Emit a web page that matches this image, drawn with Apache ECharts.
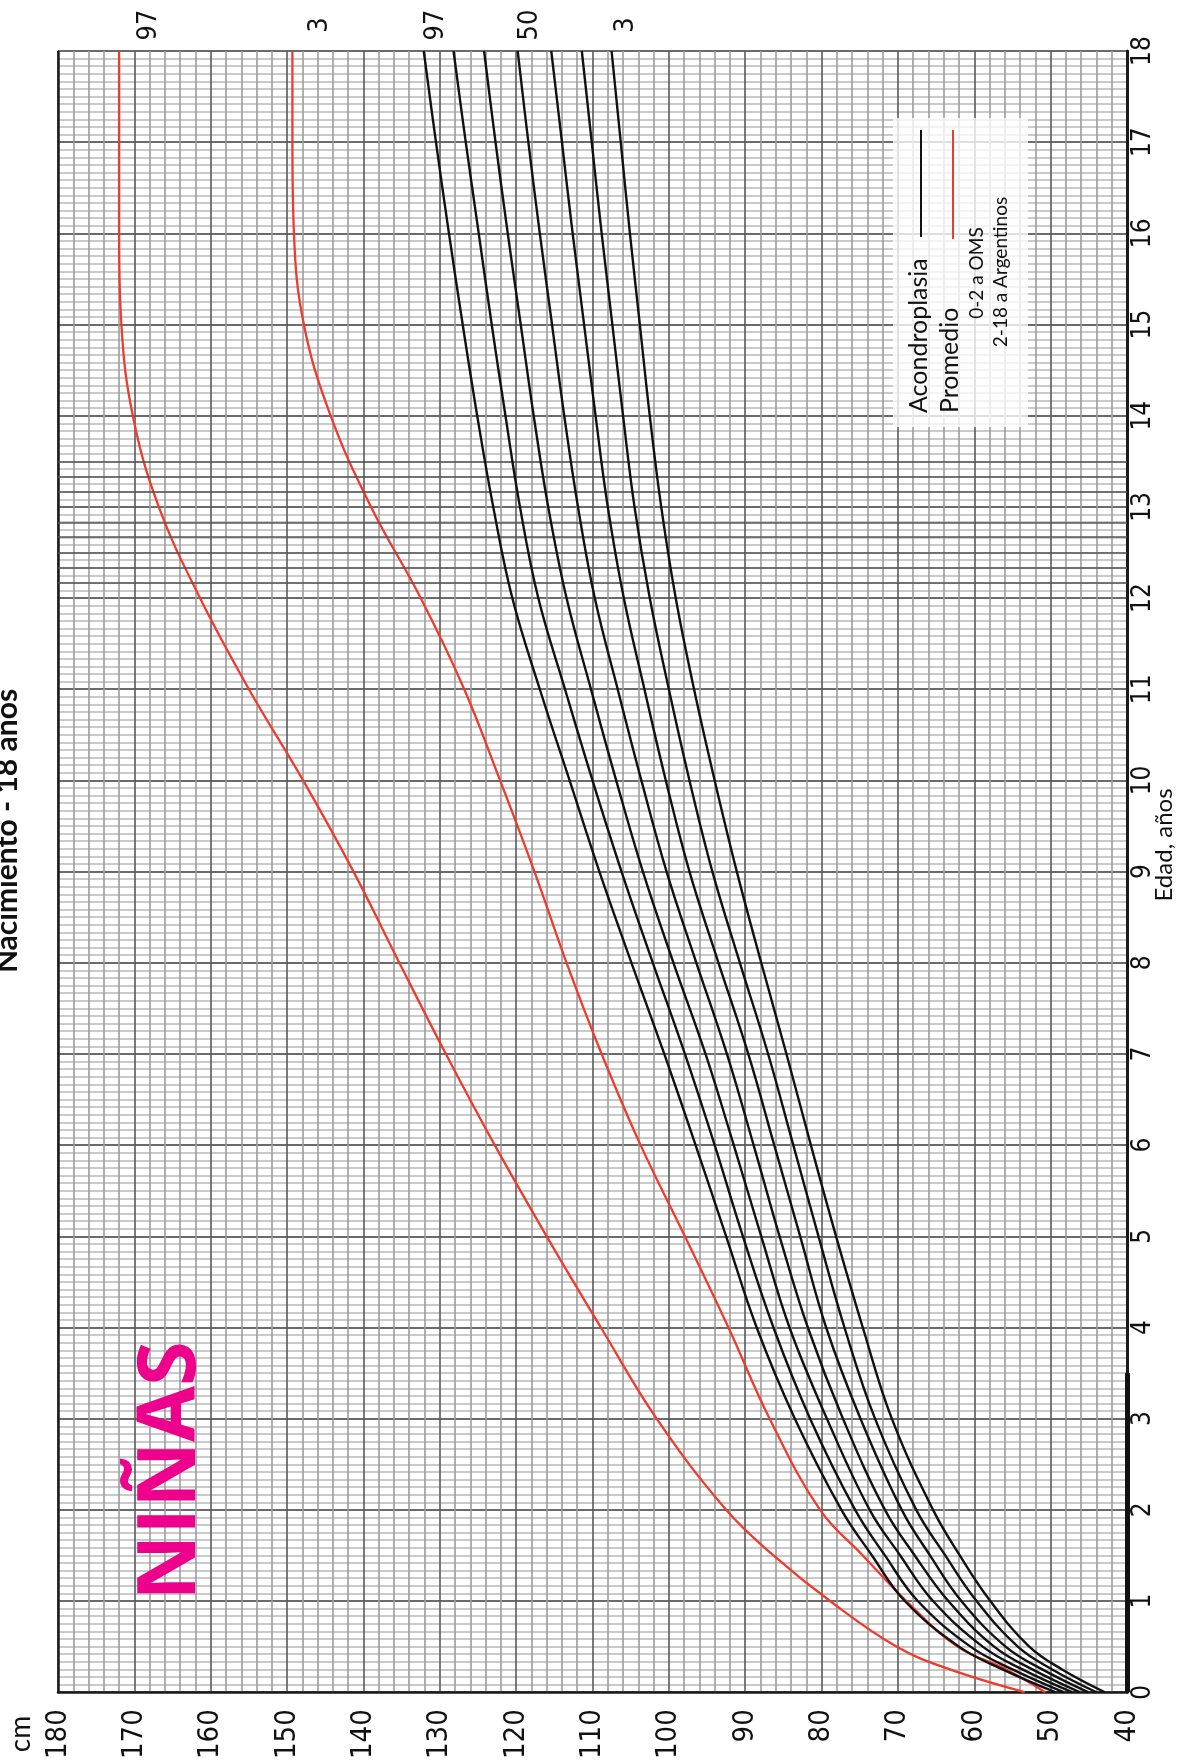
<!DOCTYPE html>
<html><head><meta charset="utf-8">
<script src="https://cdn.jsdelivr.net/npm/echarts@6/dist/echarts.min.js"></script>
<style>html,body{margin:0;padding:0;background:#fff;}#c{width:1194px;height:1762px;}</style>
</head><body><div id="c"></div>
<script>
// Age (years) sample points for the achondroplasia percentile curves
const ages = [0, 0.25, 0.5, 1, 1.5, 2, 3, 4, 5, 6, 7, 8, 9, 10, 11, 12, 13, 14, 15, 16, 17, 18];
// Achondroplasia percentiles (cm)
const p97 = [49.4, 56.3, 62.0, 69.1, 73.4, 77.4, 83.5, 88.5, 92.5, 96.5, 100.6, 104.9, 109.1, 113.0, 116.9, 120.5, 123.0, 125.1, 127.0, 128.8, 130.5, 132.1];
const p90 = [48.3, 55.0, 60.5, 67.4, 71.7, 75.6, 81.5, 86.3, 90.3, 94.0, 97.9, 102.1, 106.2, 110.0, 113.6, 117.1, 119.5, 121.4, 123.2, 124.9, 126.6, 128.2];
const p75 = [47.2, 53.7, 58.9, 65.4, 69.7, 73.7, 79.3, 84.2, 87.9, 91.5, 95.2, 99.4, 103.4, 106.9, 110.2, 113.4, 115.8, 117.7, 119.4, 121.1, 122.7, 124.2];
const p50 = [46.2, 52.4, 57.4, 63.4, 67.8, 71.7, 77.2, 81.8, 85.5, 88.9, 92.4, 96.4, 100.3, 103.6, 106.7, 109.7, 111.9, 113.7, 115.3, 116.9, 118.4, 119.8];
const p25 = [45.1, 51.1, 55.9, 61.7, 65.8, 69.5, 74.9, 79.4, 82.8, 86.2, 89.6, 93.5, 97.3, 100.4, 103.2, 105.9, 108.0, 109.6, 111.1, 112.6, 114.0, 115.4];
const p10 = [44.0, 49.8, 54.3, 59.7, 63.8, 67.6, 73.0, 77.0, 80.4, 83.7, 87.0, 90.7, 94.3, 97.3, 100.0, 102.5, 104.5, 106.0, 107.4, 108.8, 110.1, 111.4];
const p3  = [42.9, 48.5, 52.8, 57.9, 61.9, 65.4, 70.8, 74.6, 78.1, 81.4, 84.6, 87.9, 91.1, 94.0, 96.7, 99.1, 101.0, 102.5, 103.8, 105.1, 106.3, 107.5];
// Average population (0-2 WHO, 2-18 Argentine) percentiles 97 and 3 (cm)
const refAges = [0, 0.25, 0.5, 1, 1.5, 2, 3, 4, 5, 6, 7, 8, 9, 10, 11, 12, 13, 14, 15, 16, 17, 18];
const ref97 = [53.4, 63.2, 70.2, 78.9, 86.3, 92.5, 101.6, 108.9, 116.0, 122.8, 129.2, 135.3, 141.3, 147.9, 155.0, 161.4, 166.8, 170.2, 171.7, 172.0, 172.0, 172.0];
const ref3  = [50.7, 55.8, 62.2, 68.9, 74.6, 80.2, 86.8, 92.2, 97.9, 103.7, 108.8, 113.4, 117.6, 122.1, 126.8, 132.5, 139.0, 144.3, 147.8, 149.1, 149.3, 149.3];
// Axis ranges (cm labelled every 10, age every year)
const cmRange = [40, 180];
const ageRange = [0, 18];
// Curve end labels (percentiles)
const endLabels = ['97', '3', '97', '50', '3'];
// Extra darker horizontal rulings printed on the original chart sheet (age, years)
const darkRulings = [12.167, 12.333, 12.5, 12.667, 12.833, 13.167, 13.333, 13.5];

const LABEL_FONT = "'Liberation Sans Narrow','DejaVu Sans Condensed',Lato,sans-serif";
const TEXT_FONT = "Lato,'Open Sans',sans-serif";

const toPairs = (xs, ys) => xs.map((a, i) => [ys[i], a]);
const blackSeries = [p97, p90, p75, p50, p25, p10, p3].map((v, i) => ({
  type: 'line', name: 'Acondroplasia ' + i, data: toPairs(ages, v), smooth: 0.4,
  symbol: 'none', silent: true, z: 5,
  lineStyle: { color: '#111', width: 2.4 }
}));
const redSeries = [ref97, ref3].map((v, i) => ({
  type: 'line', name: 'Promedio ' + i, data: toPairs(refAges, v), smooth: 0.4,
  symbol: 'none', silent: true, z: 4,
  lineStyle: { color: '#ef3b2d', width: 2.3 }
}));

const chart = echarts.init(document.getElementById('c'), null, { renderer: 'canvas' });
chart.setOption({
  animation: false,
  backgroundColor: '#fff',
  grid: { left: 58, right: 67, top: 51, bottom: 67, containLabel: false },
  xAxis: {
    type: 'value', min: cmRange[0], max: cmRange[1], interval: 10, inverse: true, position: 'bottom',
    axisLine: { show: true, lineStyle: { color: '#1a1a1a', width: 2.5 } },
    axisTick: { show: false },
    axisLabel: { rotate: 90, fontSize: 29, color: '#111', margin: 17, fontFamily: LABEL_FONT },
    splitLine: { show: true, lineStyle: { color: '#5a5a5a', width: 1.6 } },
    minorTick: { show: false, splitNumber: 5 },
    minorSplitLine: { show: true, lineStyle: { color: '#9c9c9c', width: 1.6 } }
  },
  yAxis: {
    type: 'value', min: ageRange[0], max: ageRange[1], interval: 1, position: 'right',
    axisLine: { show: true, lineStyle: { color: '#1a1a1a', width: 3 } },
    axisTick: { show: false },
    axisLabel: { rotate: 90, fontSize: 26, color: '#111', margin: 3, fontFamily: LABEL_FONT },
    splitLine: { show: true, lineStyle: { color: '#3a3a3a', width: 1.6 } },
    minorTick: { show: false, splitNumber: 12 },
    minorSplitLine: { show: true, lineStyle: { color: '#b8b8b8', width: 1.6 } }
  },
  series: [
    {
      type: 'line', name: 'frame', data: [], silent: true, z: 3,
      markLine: {
        silent: true, symbol: ['none', 'none'], label: { show: false }, animation: false,
        data: [
          { xAxis: 180, lineStyle: { color: '#1a1a1a', width: 2.5, type: 'solid' } },
          [{ coord: [40, 0], lineStyle: { color: '#111', width: 5, type: 'solid' } }, { coord: [40, 3.5] }]
        ].concat(darkRulings.map(a => ({ yAxis: a, lineStyle: { color: '#555', width: 1.6, type: 'solid' } })))
      }
    },
    ...redSeries, ...blackSeries
  ]
});

function px(cm, age) { return chart.convertToPixel({ gridIndex: 0 }, [cm, age]); }
const R = Math.PI / 2;
const ends = [ref97[ref97.length - 1], ref3[ref3.length - 1], p97[p97.length - 1], p50[p50.length - 1], p3[p3.length - 1]];
const endDx = [30, 28, 12, 12, 14];
const g = [];
ends.forEach((v, i) => {
  const p = px(v, 18);
  g.push({ type: 'text', x: p[0] + endDx[i], y: 25, rotation: R, z: 10,
    style: { text: endLabels[i], font: "27px " + LABEL_FONT, fill: '#111', align: 'center', verticalAlign: 'middle' } });
});
// title (partly cut by the page edge)
g.push({ type: 'text', x: 22, y: 831, rotation: R, z: 10,
  style: { text: 'Nacimiento - 18 años', font: "bold 30px " + TEXT_FONT, fill: '#111', align: 'center', verticalAlign: 'bottom' } });
// NIÑAS
g.push({ type: 'text', x: 172, y: 1471, rotation: R, z: 10,
  style: { text: 'NIÑAS', font: "bold 81px 'Open Sans','Noto Sans',sans-serif", fill: '#ec008c', align: 'center', verticalAlign: 'middle' } });
// axis titles
g.push({ type: 'text', x: 21, y: 1734, rotation: R, z: 10,
  style: { text: 'cm', font: "28px " + TEXT_FONT, fill: '#111', align: 'center', verticalAlign: 'middle' } });
g.push({ type: 'text', x: 1164, y: 845, rotation: R, z: 10,
  style: { text: 'Edad, años', font: "24px " + TEXT_FONT, fill: '#111', align: 'center', verticalAlign: 'middle' } });
// legend box
g.push({ type: 'rect', shape: { x: 893, y: 118, width: 135, height: 309 }, z: 8,
  style: { fill: 'rgba(255,255,255,0.78)' } });
g.push({ type: 'line', shape: { x1: 921, y1: 130, x2: 921, y2: 237 }, z: 9, style: { stroke: '#111', lineWidth: 2 } });
g.push({ type: 'line', shape: { x1: 953, y1: 130, x2: 953, y2: 239 }, z: 9, style: { stroke: '#ef3b2d', lineWidth: 2 } });
g.push({ type: 'text', x: 919, y: 413, rotation: R, z: 10,
  style: { text: 'Acondroplasia', font: "25px " + TEXT_FONT, fill: '#111', align: 'left', verticalAlign: 'middle' } });
g.push({ type: 'text', x: 950, y: 413, rotation: R, z: 10,
  style: { text: 'Promedio', font: "25px " + TEXT_FONT, fill: '#111', align: 'left', verticalAlign: 'middle' } });
g.push({ type: 'text', x: 977, y: 273, rotation: R, z: 10,
  style: { text: '0-2 a OMS', font: "19px " + TEXT_FONT, fill: '#111', align: 'center', verticalAlign: 'middle' } });
g.push({ type: 'text', x: 1001, y: 272, rotation: R, z: 10,
  style: { text: '2-18 a Argentinos', font: "19px " + TEXT_FONT, fill: '#111', align: 'center', verticalAlign: 'middle' } });
chart.setOption({ graphic: g });
</script>
</body></html>
